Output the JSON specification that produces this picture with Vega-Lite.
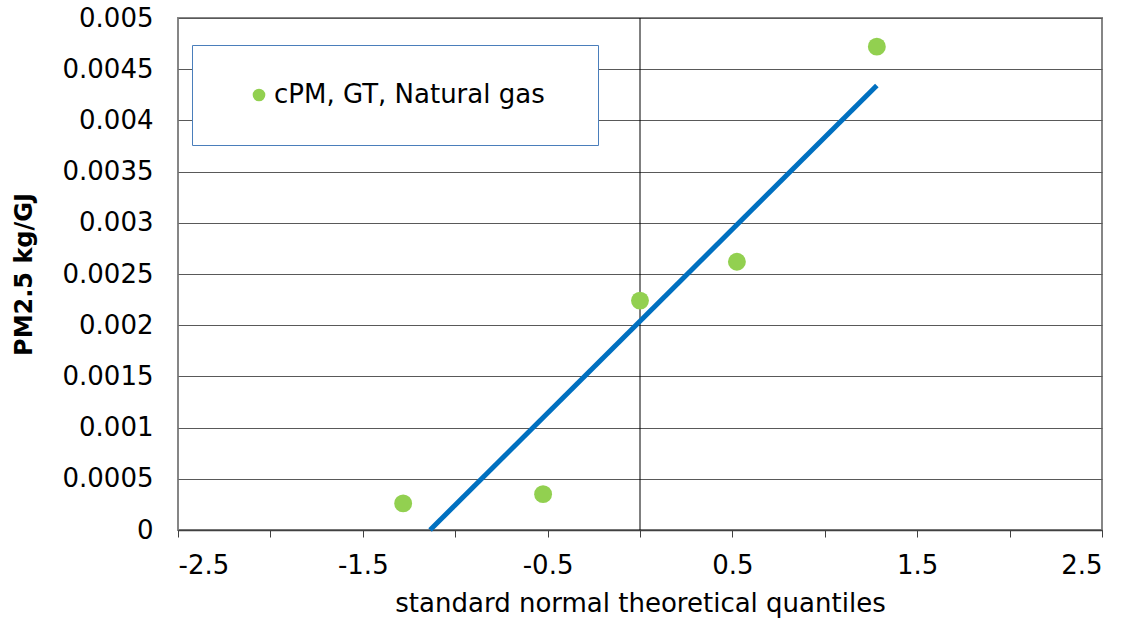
{
  "$schema": "https://vega.github.io/schema/vega-lite/v6.json",
  "autosize": "none",
  "width": 924,
  "height": 512,
  "padding": {"left": 178, "top": 18, "right": 24, "bottom": 93},
  "background": "white",
  "config": {
    "font": "DejaVu Sans",
    "view": {"stroke": "#868686", "strokeWidth": 2}
  },
  "datasets": {
    "points": [
      {"q": -1.2816, "pm": 0.00026, "series": "cPM, GT, Natural gas"},
      {"q": -0.5244, "pm": 0.00035, "series": "cPM, GT, Natural gas"},
      {"q": 0.0, "pm": 0.00224, "series": "cPM, GT, Natural gas"},
      {"q": 0.5244, "pm": 0.00262, "series": "cPM, GT, Natural gas"},
      {"q": 1.2816, "pm": 0.00472, "series": "cPM, GT, Natural gas"}
    ],
    "fit": [
      {"q": -1.136, "pm": 0.0},
      {"q": 1.2816, "pm": 0.00434}
    ],
    "zero": [{"q": 0}]
  },
  "encoding": {
    "x": {
      "field": "q", "type": "quantitative",
      "scale": {"domain": [-2.5, 2.5], "nice": false, "zero": false},
      "axis": {
        "title": "standard normal theoretical quantiles",
        "titleFontSize": 26, "titleFontWeight": "normal", "titleColor": "black", "titlePadding": 12,
        "values": [-2.5, -2, -1.5, -1, -0.5, 0, 0.5, 1, 1.5, 2, 2.5],
        "labelExpr": "abs(datum.value * 2) % 2 == 1 ? '' + datum.value : ''",
        "labelFontSize": 26, "labelColor": "black", "labelPadding": 15,
        "tickSize": 7, "tickColor": "#404040", "tickWidth": 1,
        "domainColor": "#404040", "domainWidth": 1.5,
        "grid": false
      }
    }
  },
  "layer": [
    {
      "data": {"name": "zero"},
      "mark": {"type": "rule", "color": "black", "strokeWidth": 1},
      "encoding": {}
    },
    {
      "data": {"name": "fit"},
      "mark": {"type": "line", "color": "#0070C0", "strokeWidth": 5},
      "encoding": {
        "y": {"field": "pm", "type": "quantitative"}
      }
    },
    {
      "data": {"name": "points"},
      "mark": {"type": "circle", "size": 320, "opacity": 1},
      "encoding": {
        "y": {
          "field": "pm", "type": "quantitative",
          "scale": {"domain": [0, 0.005], "nice": false},
          "axis": {
            "title": "PM2.5 kg/GJ",
            "titleFontSize": 24, "titleFontWeight": "bold", "titleColor": "black", "titlePadding": 26,
            "values": [0, 0.0005, 0.001, 0.0015, 0.002, 0.0025, 0.003, 0.0035, 0.004, 0.0045, 0.005],
            "labelExpr": "'' + datum.value",
            "labelFontSize": 26, "labelColor": "black", "labelPadding": 25,
            "ticks": false, "domain": false,
            "grid": true, "gridColor": "#595959", "gridWidth": 1
          }
        },
        "color": {
          "field": "series", "type": "nominal",
          "scale": {"range": ["#92D050"]},
          "legend": {
            "title": "\u00a0",
            "titleOrient": "right", "titlePadding": 16, "titleFontSize": 26,
            "orient": "none", "legendX": 14, "legendY": 27,
            "fillColor": "white", "strokeColor": "#4A7EBB",
            "padding": 37, "symbolOffset": 17,
            "symbolType": "circle", "symbolSize": 160, "symbolStrokeWidth": 0,
            "labelFontSize": 26, "labelColor": "black", "labelOffset": 2, "labelLimit": 450
          }
        }
      }
    }
  ],
  "resolve": {"scale": {"y": "shared"}}
}
